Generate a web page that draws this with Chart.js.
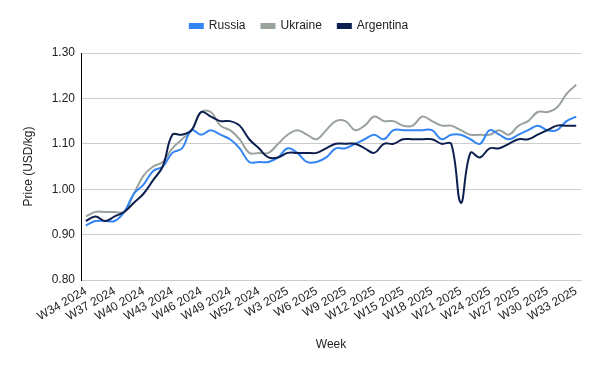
<!DOCTYPE html>
<html>
<head>
<meta charset="utf-8">
<script src="https://cdn.jsdelivr.net/npm/chart.js@4"></script>
<style>
  html, body { margin: 0; padding: 0; background: #fff; }
  #wrap { width: 600px; height: 371px; }
</style>
</head>
<body>
<div id="wrap"><canvas id="priceChart"></canvas></div>
<script>
const weeks = [
  "W34 2024", "W35 2024", "W36 2024", "W37 2024", "W38 2024", "W39 2024", "W40 2024",
  "W41 2024", "W42 2024", "W43 2024", "W44 2024", "W45 2024", "W46 2024", "W47 2024",
  "W48 2024", "W49 2024", "W50 2024", "W51 2024", "W52 2024",
  "W1 2025", "W2 2025", "W3 2025", "W4 2025", "W5 2025", "W6 2025", "W7 2025", "W8 2025",
  "W9 2025", "W10 2025", "W11 2025", "W12 2025", "W13 2025", "W14 2025", "W15 2025",
  "W16 2025", "W17 2025", "W18 2025", "W19 2025", "W20 2025", "W21 2025", "W22 2025",
  "W23 2025", "W24 2025", "W25 2025", "W26 2025", "W27 2025", "W28 2025", "W29 2025",
  "W30 2025", "W31 2025", "W32 2025", "W33 2025"
];

const russia = [
  0.92, 0.93, 0.93, 0.93, 0.95, 0.99, 1.01, 1.04, 1.05, 1.08, 1.09, 1.13, 1.12, 1.13,
  1.12, 1.11, 1.09, 1.06, 1.06, 1.06, 1.07, 1.09, 1.08, 1.06, 1.06, 1.07, 1.09,
  1.09, 1.10, 1.11, 1.12, 1.11, 1.13, 1.13, 1.13, 1.13, 1.13, 1.11, 1.12, 1.12, 1.11,
  1.10, 1.13, 1.12, 1.11, 1.12, 1.13, 1.14, 1.13, 1.13, 1.15, 1.16
];

const ukraine = [
  0.94, 0.95, 0.95, 0.95, 0.95, 0.99, 1.03, 1.05, 1.06, 1.09, 1.11, 1.13, 1.17, 1.17,
  1.14, 1.13, 1.11, 1.08, 1.08, 1.08, 1.10, 1.12, 1.13, 1.12, 1.11, 1.13, 1.15,
  1.15, 1.13, 1.14, 1.16, 1.15, 1.15, 1.14, 1.14, 1.16, 1.15, 1.14, 1.14, 1.13, 1.12,
  1.12, 1.12, 1.13, 1.12, 1.14, 1.15, 1.17, 1.17, 1.18, 1.21, 1.23
];

const argentina = [
  0.93, 0.94, 0.93, 0.94, 0.95, 0.97, 0.99, 1.02, 1.05, 1.12, 1.12, 1.13, 1.17, 1.16,
  1.15, 1.15, 1.14, 1.11, 1.09, 1.07, 1.07, 1.08, 1.08, 1.08, 1.08, 1.09, 1.10,
  1.10, 1.10, 1.09, 1.08, 1.10, 1.10, 1.11, 1.11, 1.11, 1.11, 1.10, 1.10, 0.97, 1.08,
  1.07, 1.09, 1.09, 1.10, 1.11, 1.11, 1.12, 1.13, 1.14, 1.14, 1.14
];

const textColor = "#222";
const gridColor = "#cccccc";
const fontFamily = "'Liberation Sans', Arial, sans-serif";

// tweak the space under the legend
const legendGap = {
  id: "legendGap",
  beforeInit(chart) {
    const fit = chart.legend.fit;
    chart.legend.fit = function () {
      fit.bind(chart.legend)();
      this.height += 11;
    };
  }
};

const ctx = document.getElementById("priceChart").getContext("2d");

new Chart(ctx, {
  type: "line",
  data: {
    labels: weeks,
    datasets: [
      { label: "Russia", data: russia, borderColor: "#3385f5", backgroundColor: "#3385f5", order: 1 },
      { label: "Ukraine", data: ukraine, borderColor: "#9aa39b", backgroundColor: "#9aa39b", order: 2 },
      { label: "Argentina", data: argentina, borderColor: "#0d1f4f", backgroundColor: "#0d1f4f", order: 0 },
    ],
  },
  options: {
    responsive: true,
    maintainAspectRatio: false,
    animation: false,
    layout: { padding: { left: 17, right: 19, top: 4, bottom: 15 } },
    elements: {
      line: { borderWidth: 2, tension: 0.4 },
      point: { radius: 0 },
    },
    plugins: {
      legend: {
        position: "top",
        labels: {
          boxWidth: 13,
          boxHeight: 4,
          padding: 16,
          color: textColor,
          font: { family: fontFamily, size: 12 },
          sort: (a, b) => a.datasetIndex - b.datasetIndex,
        },
      },
      tooltip: { enabled: false },
    },
    scales: {
      x: {
        offset: true,
        afterFit: (scale) => { scale.height = 76; },
        grid: { display: false, drawTicks: false },
        border: { color: gridColor },
        ticks: {
          autoSkip: false,
          minRotation: 30,
          maxRotation: 30,
          padding: 4,
          color: textColor,
          font: { family: fontFamily, size: 12 },
          callback: function (value, index) {
            return index % 3 === 0 ? this.getLabelForValue(value) : null;
          },
        },
        title: {
          display: true,
          text: "Week",
          color: textColor,
          font: { family: fontFamily, size: 12 },
        },
      },
      y: {
        min: 0.8,
        max: 1.3,
        afterFit: (scale) => { scale.width = 64; },
        grid: { color: gridColor, drawTicks: false },
        border: { color: "#000" },
        ticks: {
          stepSize: 0.1,
          padding: 6,
          color: textColor,
          font: { family: fontFamily, size: 12 },
          callback: (v) => v.toFixed(2),
        },
        title: {
          display: true,
          text: "Price (USD/kg)",
          color: textColor,
          font: { family: fontFamily, size: 12 },
        },
      },
    },
  },
  plugins: [legendGap],
});
</script>
</body>
</html>
